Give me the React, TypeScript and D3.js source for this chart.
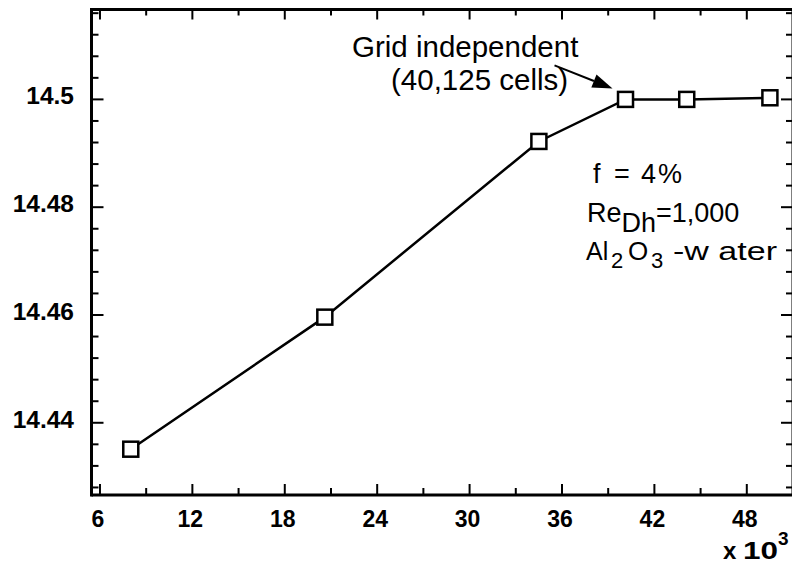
import React from "react";
import * as d3 from "d3";

const xValues = [8.0, 20.6, 34.5, 40.125, 44.1, 49.5];
const yValues = [14.4351, 14.4596, 14.4922, 14.5, 14.5, 14.5003];
const xMajorTicks = [6, 12, 18, 24, 30, 36, 42, 48];
const xMinorTicks = [9, 15, 21, 27, 33, 39, 45, 51];
const yMajorTicks = [14.44, 14.46, 14.48, 14.5];
const yMinorTicks = [14.428, 14.432, 14.436, 14.444, 14.448, 14.452, 14.456, 14.464, 14.468, 14.472, 14.476, 14.484, 14.488, 14.492, 14.496, 14.504, 14.508, 14.512, 14.516];
const yTickLabels = ["14.44", "14.46", "14.48", "14.5"];

const W = 792, H = 565;
const L = 91.5, R = 793, T = 9.5, B = 495;

export default function App() {
  const x = d3.scaleLinear().domain([5.45, 51]).range([L, R]);
  const y = d3.scaleLinear().domain([14.4266, 14.51668]).range([B, T]);
  const line = d3.line<number>().x((_, i) => x(xValues[i])).y((d) => y(d));
  const px = x(40.125), py = y(14.5);
  const tipX = px - 13, tipY = py - 11;
  const sx = tipX - 58, sy = tipY - 23;
  const ang = Math.atan2(tipY - sy, tipX - sx);
  const hl = 20, hw = 7;
  const bx = tipX - hl * Math.cos(ang), by = tipY - hl * Math.sin(ang);
  const head = [
    [tipX, tipY],
    [bx + hw * Math.sin(ang), by - hw * Math.cos(ang)],
    [bx - hw * Math.sin(ang), by + hw * Math.cos(ang)],
  ];
  const font = "'Liberation Sans', Arial, sans-serif";
  const sq = 15;
  return (
    <svg width={W} height={H} style={{ position: "absolute", left: 0, top: 0, background: "#fff" }}>
      <rect x={0} y={0} width={W} height={H} fill="#fff" />
      {/* ticks */}
      <g stroke="#000" strokeWidth={2}>
        {yMajorTicks.map((v) => (
          <g key={"ym" + v}>
            <line x1={L} x2={L + 12} y1={y(v)} y2={y(v)} />
            <line x1={R} x2={R - 12} y1={y(v)} y2={y(v)} />
          </g>
        ))}
        {yMinorTicks.map((v) => (
          <g key={"yn" + v}>
            <line x1={L} x2={L + 7} y1={y(v)} y2={y(v)} />
            <line x1={R} x2={R - 7} y1={y(v)} y2={y(v)} />
          </g>
        ))}
        {xMajorTicks.map((v) => (
          <g key={"xm" + v}>
            <line x1={x(v)} x2={x(v)} y1={B} y2={B - 11} />
            <line x1={x(v)} x2={x(v)} y1={T} y2={T + 10} />
          </g>
        ))}
        {xMinorTicks.map((v) => (
          <g key={"xn" + v}>
            <line x1={x(v)} x2={x(v)} y1={B} y2={B - 7} />
            <line x1={x(v)} x2={x(v)} y1={T} y2={T + 6} />
          </g>
        ))}
      </g>
      {/* frame */}
      <g stroke="#000" strokeWidth={3} fill="none">
        <line x1={L} x2={L} y1={T - 1.5} y2={B + 1.5} />
        <line x1={L} x2={R} y1={B} y2={B} />
        <line x1={L} x2={R} y1={T} y2={T} />
        <line x1={R} x2={R} y1={T} y2={B} />
      </g>
      {/* tick labels */}
      <g fontFamily={font} fontWeight="bold" fontSize={24.5} fill="#000">
        {yMajorTicks.map((v, i) => (
          <text key={"yl" + v} x={74} y={y(v) + 5} textAnchor="end">{yTickLabels[i]}</text>
        ))}
      </g>
      <g fontFamily={font} fontWeight="bold" fontSize={23} fill="#000">
        {xMajorTicks.map((v) => (
          <text key={"xl" + v} x={x(v) - 2} y={527} textAnchor="middle">{v}</text>
        ))}
        <text x={723} y={559} fontSize={24}>x</text>
        <text x={743} y={559} fontSize={24} textLength={35} lengthAdjust="spacingAndGlyphs">10</text>
        <text x={778} y={545} fontSize={19}>3</text>
      </g>
      {/* data line */}
      <path d={line(yValues) || ""} fill="none" stroke="#000" strokeWidth={2.5} />
      {yValues.map((v, i) => (
        <rect key={"p" + i} x={x(xValues[i]) - sq / 2} y={y(v) - sq / 2} width={sq} height={sq}
          fill="#fff" stroke="#000" strokeWidth={2.5} />
      ))}
      {/* annotation */}
      <line x1={sx} y1={sy} x2={bx} y2={by} stroke="#000" strokeWidth={2} />
      <polygon points={head.map((p) => p.join(",")).join(" ")} fill="#000" />
      <g fontFamily={font} fontSize={29.5} fill="#000">
        <text x={352} y={57}>Grid independent</text>
        <text x={391} y={90}>(40,125 cells)</text>
      </g>
      <g fontFamily={font} fontSize={27} fill="#000">
        <text x={593} y={183}>f</text>
        <text x={614} y={183} textLength={68} lengthAdjust="spacing">= 4%</text>
        <text x={587} y={222}>Re<tspan dy={10}>Dh</tspan><tspan dy={-10}>=1,000</tspan></text>
        <text x={586} y={260} fontSize={25}>Al</text>
        <text x={611} y={268} fontSize={22}>2</text>
        <text x={628} y={260} fontSize={26}>O</text>
        <text x={651} y={268} fontSize={22}>3</text>
        <text x={673} y={260} fontSize={26} textLength={104} lengthAdjust="spacingAndGlyphs">-w ater</text>
      </g>
    </svg>
  );
}
